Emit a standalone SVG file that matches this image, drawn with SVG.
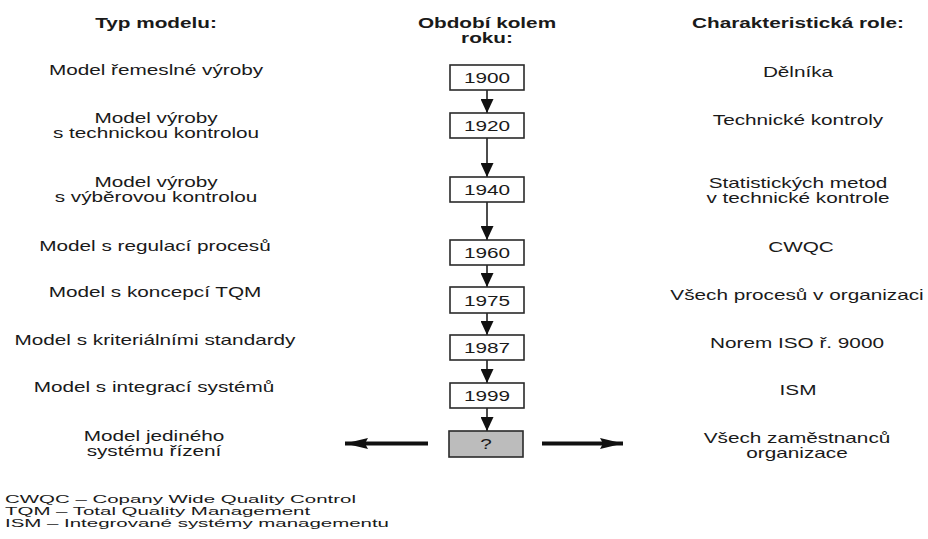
<svg xmlns="http://www.w3.org/2000/svg" width="928" height="539" viewBox="0 0 928 539">
<defs>
<style>
text{font-family:"Liberation Sans",Arial,Helvetica,sans-serif;fill:#1a1a1a;}
.t{font-size:14.5px;text-anchor:middle;}
.h{font-size:14.5px;font-weight:bold;text-anchor:middle;}
.lg{font-size:11px;text-anchor:start;}
.box{fill:#ffffff;stroke:#2a2a2a;stroke-width:1.6;}
.q{fill:#bcbcbc;stroke:#2a2a2a;stroke-width:1.6;}
.v{stroke:#111;stroke-width:1.5;fill:none;marker-end:url(#ah);}
.hz{stroke:#111;stroke-width:4;fill:none;marker-end:url(#bh);}
</style>
<marker id="ah" markerUnits="userSpaceOnUse" markerWidth="14" markerHeight="13" refX="14" refY="6.5" orient="auto">
<path d="M0,0 L14,6.5 L0,13 z" fill="#111"/>
</marker>
<marker id="bh" markerUnits="userSpaceOnUse" markerWidth="23" markerHeight="11" refX="23" refY="5.5" orient="auto">
<path d="M0,0 L23,5.5 L0,11 L3,5.5 z" fill="#111"/>
</marker>
</defs>

<g id="headers">
<text class="h" transform="translate(156,28) scale(1.43,1)">Typ modelu:</text>
<text class="h" transform="translate(487,28) scale(1.43,1)"><tspan x="0" y="0">Období kolem</tspan><tspan x="0" y="15">roku:</tspan></text>
<text class="h" transform="translate(798,28) scale(1.43,1)">Charakteristická role:</text>
</g>

<g id="connectors">
<line class="v" x1="487" y1="90" x2="487" y2="113"/>
<line class="v" x1="487" y1="138" x2="487" y2="177"/>
<line class="v" x1="487" y1="202" x2="487" y2="240"/>
<line class="v" x1="487" y1="265" x2="487" y2="287"/>
<line class="v" x1="487" y1="313" x2="487" y2="335"/>
<line class="v" x1="487" y1="360" x2="487" y2="383"/>
<line class="v" x1="487" y1="408" x2="487" y2="431"/>
<line class="hz" x1="428" y1="443.5" x2="345" y2="443.5"/>
<line class="hz" x1="542" y1="443.5" x2="623" y2="443.5"/>
</g>

<g id="n1900"><rect class="box" x="450" y="65" width="74" height="25"/><text class="t" transform="translate(487,83) scale(1.43,1)">1900</text></g>
<g id="n1920"><rect class="box" x="450" y="113" width="74" height="25"/><text class="t" transform="translate(487,131) scale(1.43,1)">1920</text></g>
<g id="n1940"><rect class="box" x="450" y="177" width="74" height="25"/><text class="t" transform="translate(487,195) scale(1.43,1)">1940</text></g>
<g id="n1960"><rect class="box" x="450" y="240" width="74" height="25"/><text class="t" transform="translate(487,258) scale(1.43,1)">1960</text></g>
<g id="n1975"><rect class="box" x="450" y="287" width="74" height="26"/><text class="t" transform="translate(487,305.5) scale(1.43,1)">1975</text></g>
<g id="n1987"><rect class="box" x="450" y="335" width="74" height="25"/><text class="t" transform="translate(487,353) scale(1.43,1)">1987</text></g>
<g id="n1999"><rect class="box" x="450" y="383" width="74" height="25"/><text class="t" transform="translate(487,401) scale(1.43,1)">1999</text></g>
<g id="nq"><rect class="q" x="449" y="431" width="74" height="26"/><text class="t" transform="translate(486,449) scale(1.43,1)">?</text></g>

<g id="models">
<text class="t" transform="translate(156,75) scale(1.43,1)">Model řemeslné výroby</text>
<text class="t" transform="translate(156,123) scale(1.43,1)"><tspan x="0" y="0">Model výroby</tspan><tspan x="0" y="15">s technickou kontrolou</tspan></text>
<text class="t" transform="translate(156,187) scale(1.43,1)"><tspan x="0" y="0">Model výroby</tspan><tspan x="0" y="15">s výběrovou kontrolou</tspan></text>
<text class="t" transform="translate(155,251) scale(1.43,1)">Model s regulací procesů</text>
<text class="t" transform="translate(155,297) scale(1.43,1)">Model s koncepcí TQM</text>
<text class="t" transform="translate(155,345) scale(1.43,1)">Model s kriteriálními standardy</text>
<text class="t" transform="translate(154,392) scale(1.43,1)">Model s integrací systémů</text>
<text class="t" transform="translate(154,441) scale(1.43,1)"><tspan x="0" y="0">Model jediného</tspan><tspan x="0" y="15">systému řízení</tspan></text>
</g>

<g id="roles">
<text class="t" transform="translate(798,77) scale(1.43,1)">Dělníka</text>
<text class="t" transform="translate(798,125) scale(1.43,1)">Technické kontroly</text>
<text class="t" transform="translate(798,188) scale(1.43,1)"><tspan x="0" y="0">Statistických metod</tspan><tspan x="0" y="15">v technické kontrole</tspan></text>
<text class="t" transform="translate(801,252) scale(1.43,1)">CWQC</text>
<text class="t" transform="translate(797,300) scale(1.43,1)">Všech procesů v organizaci</text>
<text class="t" transform="translate(797,348) scale(1.43,1)">Norem ISO ř. 9000</text>
<text class="t" transform="translate(798,395) scale(1.43,1)">ISM</text>
<text class="t" transform="translate(797,443) scale(1.43,1)"><tspan x="0" y="0">Všech zaměstnanců</tspan><tspan x="0" y="15">organizace</tspan></text>
</g>

<g id="legend">
<text class="lg" transform="translate(5,503) scale(1.86,1)">CWQC – Copany Wide Quality Control</text>
<text class="lg" transform="translate(5,515) scale(1.86,1)">TQM – Total Quality Management</text>
<text class="lg" transform="translate(5,527) scale(1.86,1)">ISM – Integrované systémy managementu</text>
</g>
</svg>
